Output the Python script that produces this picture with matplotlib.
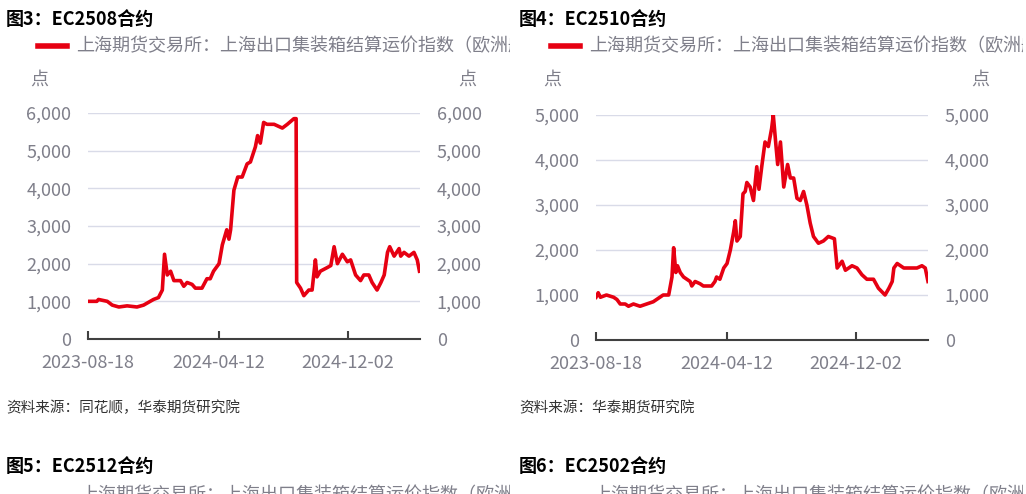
import pandas as pd
import matplotlib
matplotlib.use('Agg')
import matplotlib.pyplot as plt
import matplotlib.dates as mdates
from matplotlib.transforms import Bbox, TransformedBbox

plt.rcParams['font.family'] = ['Noto Sans CJK SC', 'DejaVu Sans']
plt.rcParams['axes.unicode_minus'] = False

START = pd.Timestamp('2023-08-18')
END = pd.Timestamp('2025-04-12')
TICKS = ['2023-08-18', '2024-04-12', '2024-12-02']

# EC2508: 距 2023-08-18 的天数与点位
days_2508 = [0, 16, 19, 35, 44, 56, 71, 89, 101, 119, 128, 135, 139, 144, 150, 156, 168, 174, 180, 189,
             195, 207, 216, 222, 228, 238, 244, 252, 256, 259, 265, 272, 280, 289, 295, 304, 308, 313, 319, 325,
             338, 353, 362, 374, 378, 379, 386, 392, 401, 407, 413, 416, 422, 435, 441, 447, 453, 462, 471, 477,
             486, 495, 501, 510, 516, 525, 532, 538, 544, 548, 556, 565, 568, 574, 583, 592, 598, 602]
vals_2508 = [1000, 1000, 1050, 1000, 900, 850, 880, 850, 900, 1050, 1100, 1300, 2250, 1700, 1800, 1550, 1550, 1400, 1500, 1450,
             1350, 1350, 1600, 1600, 1800, 2000, 2500, 2900, 2650, 2900, 3950, 4300, 4300, 4650, 4700, 5100, 5400, 5200, 5750, 5700,
             5700, 5600, 5700, 5850, 5850, 1500, 1350, 1150, 1300, 1300, 2100, 1650, 1800, 1900, 1950, 2450, 2000, 2250, 2050, 2100,
             1700, 1550, 1700, 1700, 1500, 1300, 1500, 1700, 2300, 2450, 2200, 2400, 2200, 2300, 2200, 2300, 2100, 1800]

# EC2510
days_2510 = [0, 4, 8, 19, 32, 38, 44, 53, 59, 68, 80, 92, 104, 116, 122, 132, 138, 141, 145, 148,
             153, 159, 165, 171, 174, 180, 189, 195, 210, 216, 219, 225, 232, 238, 244, 250, 253, 256, 262, 267,
             271, 274, 280, 286, 292, 296, 301, 307, 313, 319, 322, 327, 330, 335, 341, 348, 353, 359, 365, 371,
             377, 383, 389, 395, 404, 413, 422, 433, 438, 447, 453, 465, 474, 483, 492, 504, 513, 525, 532, 538,
             541, 547, 559, 571, 583, 592, 598, 603]
vals_2510 = [950, 1050, 950, 1000, 950, 900, 800, 800, 750, 800, 750, 800, 850, 950, 1000, 1000, 1400, 2050, 1500, 1650,
             1500, 1400, 1350, 1300, 1200, 1300, 1250, 1200, 1200, 1300, 1400, 1350, 1600, 1700, 2000, 2400, 2650, 2200, 2300, 3250,
             3300, 3500, 3400, 3100, 3850, 3350, 3850, 4400, 4300, 4700, 5000, 4300, 3900, 4400, 3400, 3900, 3600, 3600, 3150, 3100,
             3300, 3000, 2600, 2300, 2150, 2200, 2300, 2250, 1600, 1750, 1550, 1650, 1600, 1450, 1350, 1350, 1150, 1000, 1150, 1300,
             1600, 1700, 1600, 1600, 1600, 1650, 1600, 1300]

RED = '#e60012'
GRAY = '#7f7f8a'
LEGEND = '上海期货交易所：上海出口集装箱结算运价指数（欧洲航线）'

fig = plt.figure(figsize=(10.26, 4.94), dpi=100)


def clip_half(t, x0, x1):
    t.set_clip_on(True)
    t.set_clip_box(TransformedBbox(Bbox([[x0, 0], [x1, 1]]), fig.transFigure))


def fmt(v, p):
    return f'{int(v):,}'


def draw_panel(rect, days, vals, ymax, step):
    ax = fig.add_axes(rect)
    dates = START + pd.to_timedelta(days, unit='D')
    ax.plot(dates, vals, color=RED, lw=2.6)
    ax.set_xlim(START, END)
    ax.set_ylim(0, ymax)
    ax.set_yticks(range(0, ymax + 1, step))
    ax.yaxis.set_major_formatter(matplotlib.ticker.FuncFormatter(fmt))
    ax.set_xticks(pd.to_datetime(TICKS))
    ax.xaxis.set_major_formatter(mdates.DateFormatter('%Y-%m-%d'))
    ax.grid(axis='y', color='#d9dbe8', lw=1)
    for s in ['top', 'right', 'left']:
        ax.spines[s].set_visible(False)
    ax.spines['bottom'].set_color('#404040')
    ax.spines['bottom'].set_linewidth(1.5)
    ax.tick_params(axis='y', length=0, labelsize=13, labelcolor=GRAY, pad=12)
    ax.tick_params(axis='x', length=6, width=1.5, color='#404040', direction='in',
                   labelsize=13, labelcolor=GRAY, pad=11)
    ax2 = ax.twinx()
    ax2.set_ylim(0, ymax)
    ax2.set_yticks(range(0, ymax + 1, step))
    ax2.yaxis.set_major_formatter(matplotlib.ticker.FuncFormatter(fmt))
    for s in ax2.spines.values():
        s.set_visible(False)
    ax2.tick_params(axis='y', length=0, labelsize=13, labelcolor=GRAY, pad=12)
    return ax


draw_panel([88 / 1026, 1 - 339 / 494, 332 / 1026, 226 / 494], days_2508, vals_2508, 6000, 1000)
draw_panel([596 / 1026, 1 - 340 / 494, 332 / 1026, 225 / 494], days_2510, vals_2510, 5000, 1000)

for x0, x1, fig_n, name, src in [(0, 0.5, '3', 'EC2508', '资料来源：同花顺，华泰期货研究院'),
                                  (0.5, 1.0, '4', 'EC2510', '资料来源：华泰期货研究院')]:
    px = x0 * 1026
    fig.text((px + 6) / 1026, 1 - 19 / 494, f'图{fig_n}：{name}合约', fontsize=13, fontweight='bold',
             va='center', color='black')
    fig.add_artist(plt.Line2D([(px + 38) / 1026, (px + 67) / 1026], [1 - 46 / 494] * 2,
                              color=RED, lw=4, transform=fig.transFigure))
    t = fig.text((px + 76) / 1026, 1 - 46 / 494, LEGEND, fontsize=13, color=GRAY, va='center')
    clip_half(t, x0, x1 - 0.003)
    fig.text((px + 39) / 1026, 1 - 80 / 494, '点', fontsize=13, color=GRAY, va='center', ha='center')
    fig.text((px + 467) / 1026, 1 - 80 / 494, '点', fontsize=13, color=GRAY, va='center', ha='center')
    fig.text((px + 6) / 1026, 1 - 408 / 494, src, fontsize=10.5, style='italic', color='#333333', va='center')

for x0, x1, fig_n, name in [(0, 0.5, '5', 'EC2512'), (0.5, 1.0, '6', 'EC2502')]:
    px = x0 * 1026
    fig.text((px + 6) / 1026, 1 - 466 / 494, f'图{fig_n}：{name}合约', fontsize=13, fontweight='bold',
             va='center', color='black')
    t = fig.text((px + 80) / 1026, 1 - 495 / 494, LEGEND, fontsize=13, color=GRAY, va='center')
    clip_half(t, x0, x1 - 0.003)

fig.savefig('out.png', dpi=100)
